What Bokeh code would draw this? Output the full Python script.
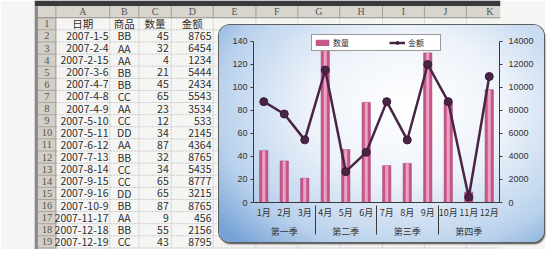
from bokeh.plotting import figure
from bokeh.models import (Range1d, LinearAxis, FactorRange, ColumnDataSource,
                          Legend, LegendItem)
from bokeh.layouts import column
from bokeh.embed import file_html
from bokeh.resources import INLINE
from bokeh.core.properties import value

# ---------------- spreadsheet data ----------------
col_letters = ["A", "B", "C", "D", "E", "F", "G", "H", "I", "J", "K"]
header = ["日期", "商品", "数量", "金额"]
dates = ["2007-1-5", "2007-2-4", "2007-2-15", "2007-3-6", "2007-4-7", "2007-4-8",
         "2007-4-9", "2007-5-10", "2007-5-11", "2007-6-12", "2007-7-13", "2007-8-14",
         "2007-9-15", "2007-9-16", "2007-10-9", "2007-11-17", "2007-12-18", "2007-12-19"]
products = ["BB", "AA", "AA", "BB", "BB", "CC", "AA", "CC", "DD", "AA", "BB", "CC",
            "CC", "DD", "BB", "AA", "BB", "CC"]
qty = [45, 32, 4, 21, 45, 65, 23, 12, 34, 87, 32, 34, 65, 65, 87, 9, 55, 43]
amount = [8765, 6454, 1234, 5444, 2434, 5543, 3534, 533, 2145, 4364, 8765, 5435,
          8777, 3215, 8765, 456, 2156, 8795]

# ---------------- chart data ----------------
quarters = ["第一季", "第一季", "第一季", "第二季", "第二季", "第二季",
            "第三季", "第三季", "第三季", "第四季", "第四季", "第四季"]
months = ["1月", "2月", "3月", "4月", "5月", "6月", "7月", "8月", "9月", "10月", "11月", "12月"]
month_qty = [45, 36, 21, 133, 46, 87, 32, 34, 130, 87, 9, 98]
month_amt = [8765, 7688, 5444, 11511, 2678, 4364, 8765, 5435, 11992, 8765, 456, 10951]
qty_ticks = [0, 20, 40, 60, 80, 100, 120, 140]
amt_ticks = [0, 2000, 4000, 6000, 8000, 10000, 12000, 14000]

# ---------------- sheet layout (reference pixel units) ----------------
col_edges = [25, 88, 122, 160, 209, 259, 308, 357, 407, 456, 505, 560]
row_top = 18.0
row_h = 12.65
n_rows = 19
W, H = 545, 249
Y_END = 260.0

sheet = figure(width=W, height=H, x_range=Range1d(0, W), y_range=Range1d(Y_END, 0),
               x_axis_type=None, y_axis_type=None, output_backend="svg",
               toolbar_location=None, min_border=0)
sheet.grid.visible = False
sheet.outline_line_color = None
sheet.background_fill_color = "#f5f5f3"
sheet.border_fill_color = "#f5f5f3"

# chrome strip, header strip, row-number strip
sheet.quad(left=[0], right=[W], top=[0], bottom=[6], fill_color="#3a3a3c", line_color=None)
sheet.quad(left=[0], right=[W], top=[6], bottom=[18], fill_color="#d8d5ce", line_color=None)
sheet.quad(left=[0], right=[25], top=[18], bottom=[Y_END], fill_color="#d3cfc7", line_color=None)
sheet.quad(left=[0], right=[4], top=[6], bottom=[Y_END], fill_color="#8c8690", line_color=None)

row_lines = [row_top + i * row_h for i in range(n_rows + 1)]
# cell grid
sheet.segment(x0=[25] * len(row_lines), y0=row_lines, x1=[W] * len(row_lines), y1=row_lines,
              line_color="#cbcbcb", line_width=1, line_dash="2 1")
sheet.segment(x0=col_edges[1:], y0=[18] * (len(col_edges) - 1), x1=col_edges[1:],
              y1=[Y_END] * (len(col_edges) - 1), line_color="#cbcbcb", line_width=1, line_dash="2 1")
# header separators
sheet.segment(x0=col_edges, y0=[6] * len(col_edges), x1=col_edges, y1=[18] * len(col_edges),
              line_color="#a19d95", line_width=1)
sheet.segment(x0=[4] * len(row_lines), y0=row_lines, x1=[25] * len(row_lines), y1=row_lines,
              line_color="#aaa69e", line_width=1)
sheet.segment(x0=[4, 25], y0=[18, 18], x1=[W, 25], y1=[18, Y_END], line_color="#9a968e", line_width=1)

col_centers = [(col_edges[i] + col_edges[i + 1]) / 2 for i in range(len(col_letters))]
sheet.text(x=col_centers, y=[12] * len(col_letters), text=col_letters,
           text_font=value("Liberation Serif"), text_font_size="10px", text_color="#555555",
           text_align="center", text_baseline="middle")
row_centers = [row_top + (i + 0.5) * row_h for i in range(n_rows)]
sheet.text(x=[14.5] * n_rows, y=row_centers, text=[str(i + 1) for i in range(n_rows)],
           text_font=value("Liberation Serif"), text_font_size="10.5px", text_color="#555555",
           text_align="center", text_baseline="middle")
sheet.text(x=col_centers[:4], y=[row_centers[0]] * 4, text=header,
           text_font=value("Noto Sans CJK SC"), text_font_size="10.5px", text_color="#2e2e2e",
           text_align="center", text_baseline="middle")
data_y = row_centers[1:1 + len(dates)]
cell_kw = dict(text_font=value("Noto Sans CJK SC"), text_font_size="10.5px",
               text_color="#2e2e2e", text_baseline="middle")
sheet.text(x=[col_edges[1] - 1.5] * len(dates), y=data_y, text=dates, text_align="right", **cell_kw)
sheet.text(x=[col_centers[1]] * len(products), y=data_y, text=products, text_align="center", **cell_kw)
sheet.text(x=[col_edges[3] - 3] * len(qty), y=data_y, text=[str(v) for v in qty],
           text_align="right", **cell_kw)
sheet.text(x=[col_edges[4] - 2] * len(amount), y=data_y, text=[str(v) for v in amount],
           text_align="right", **cell_kw)

# ---------------- chart ----------------
x_factors = list(zip(quarters, months))
src = ColumnDataSource(dict(x=x_factors, qty=month_qty, amt=month_amt))

CX, CY, CW, CH = 219, 25, 325, 217
c = figure(width=CW, height=CH,
           x_range=FactorRange(*x_factors, range_padding=0, group_padding=0, factor_padding=0),
           y_range=Range1d(0, 146), output_backend="svg", toolbar_location=None,
           min_border_left=34, min_border_right=45, min_border_top=9, min_border_bottom=40)
c.extra_y_ranges = {"amt": Range1d(0, 14600)}
c.grid.visible = False
c.outline_line_color = None
c.background_fill_alpha = 0
c.border_fill_alpha = 0
c.styles = {
    "background": "radial-gradient(ellipse 75% 85% at 58% 38%, #ffffff 0%, #eef3fa 40%, #b9d1ec 78%, #76a3d6 100%)",
    "border-radius": "11px",
    "box-shadow": "0 0 0 1px #5e5e5e, 1px 2px 2px #3c3c3c",
}
c.margin = (-(H - CY), 0, 0, CX)

bars = c.vbar(x="x", top="qty", width=0.4, source=src, fill_color="#c8558a",
              line_color="#a8406f", line_width=0.6)
c.vbar(x="x", top="qty", width=0.15, source=src, fill_color="#eeb0ca", line_color=None,
       fill_alpha=0.85)
ln = c.line(x="x", y="amt", source=src, y_range_name="amt", line_color="#4a2445", line_width=2.5)
mk = c.scatter(x="x", y="amt", source=src, y_range_name="amt", size=8,
               fill_color="#4a2445", line_color="#3a1a35")

ax_col = "#3a3a3a"
yl = c.yaxis[0]
yl.ticker = qty_ticks
yl.bounds = (qty_ticks[0], qty_ticks[-1])
yr = LinearAxis(y_range_name="amt", ticker=amt_ticks, bounds=(amt_ticks[0], amt_ticks[-1]))
c.add_layout(yr, "right")
for ax, so in ((yl, 3), (yr, 6)):
    ax.axis_line_color = ax_col
    ax.major_tick_line_color = ax_col
    ax.major_tick_out = 3
    ax.major_tick_in = 0
    ax.minor_tick_line_color = None
    ax.major_label_text_font = "Liberation Sans"
    ax.major_label_text_font_size = "9px"
    ax.major_label_text_color = "#333333"
    ax.major_label_standoff = so

xa = c.xaxis[0]
xa.axis_line_color = ax_col
xa.major_tick_line_color = None
xa.major_tick_out = 0
xa.major_tick_in = 0
xa.major_label_text_font = "Noto Sans CJK SC"
xa.major_label_text_font_size = "9px"
xa.major_label_text_color = "#333333"
xa.major_label_standoff = 3
xa.group_text_font = "Noto Sans CJK SC"
xa.group_text_font_size = "9px"
xa.group_text_font_style = "normal"
xa.group_text_color = "#333333"
xa.separator_line_color = ax_col
xa.separator_line_width = 1

legend = Legend(items=[LegendItem(label="数量", renderers=[bars]),
                       LegendItem(label="金额", renderers=[ln, mk])],
                orientation="horizontal", location="top_center",
                label_text_font="Noto Sans CJK SC", label_text_font_size="8px",
                label_text_color="#333333", glyph_width=16, glyph_height=7,
                label_height=8, label_width=30, label_standoff=3, padding=2, spacing=26,
                margin=0, border_line_color="#333333", border_line_width=1,
                background_fill_color="white", background_fill_alpha=1)
c.add_layout(legend)

root = column(sheet, c, spacing=0)
open("out.html", "w").write(file_html(root, INLINE))
